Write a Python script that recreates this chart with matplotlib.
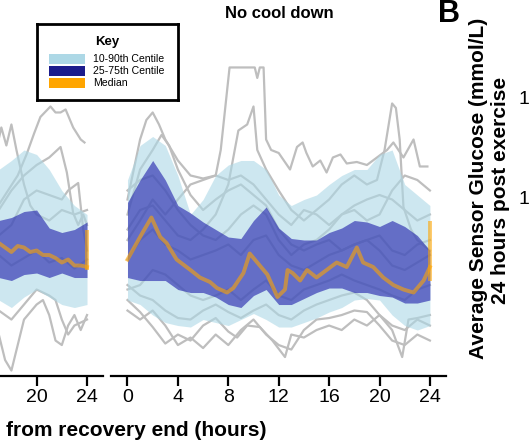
import numpy as np
import matplotlib.pyplot as plt
from matplotlib.patches import Rectangle

plt.rcParams['font.family'] = ['Liberation Sans', 'DejaVu Sans']

# Sensor glucose (mmol/L), hours from recovery end
# ---------- right panel: "No cool down" ----------
hours_r = np.arange(0, 25)
r_p90 = [14.0, 16.3, 16.9, 16.3, 14.3, 11.7, 12.7, 14.3, 15.0, 15.3, 15.3, 14.7, 13.0,
         12.3, 12.7, 13.0, 13.7, 14.3, 14.7, 14.7, 15.7, 16.0, 13.7, 13.0, 12.3]
r_p75 = [12.5, 14.0, 15.3, 14.0, 12.3, 11.8, 11.2, 10.7, 10.2, 10.1, 11.3, 12.2, 10.8,
         10.1, 10.0, 10.0, 10.5, 10.8, 11.3, 11.2, 10.9, 11.3, 10.9, 10.3, 9.3]
r_p25 = [7.5, 7.3, 7.3, 7.3, 6.7, 6.5, 6.5, 6.2, 5.7, 5.5, 6.3, 6.7, 5.7,
         5.7, 6.1, 6.5, 6.8, 6.8, 6.5, 6.5, 6.3, 6.2, 5.8, 5.8, 6.0]
r_p10 = [6.0, 5.7, 5.0, 4.5, 4.3, 4.2, 4.7, 4.5, 4.3, 4.7, 5.1, 4.7, 4.2,
         4.2, 4.5, 4.8, 5.2, 5.5, 6.0, 6.1, 6.0, 5.0, 4.3, 4.0, 4.3]
r_med_t = [0, 1.2, 1.9, 2.6, 3.1, 3.9, 5.0, 5.75, 6.55, 7.1, 7.9, 8.4, 9.2, 9.7, 10.3, 11.1,
           11.9, 12.5, 12.7, 13.1, 13.7, 14.25, 15.0, 15.8, 16.6, 17.4, 18.2, 18.7, 19.5,
           20.3, 21.1, 21.9, 22.7, 23.5, 24]
r_med_v = [8.7, 10.5, 11.5, 10.2, 9.8, 8.7, 8.0, 7.5, 7.2, 6.8, 6.5, 6.8, 7.8, 9.1, 8.5, 7.7,
           6.2, 6.7, 8.0, 7.8, 7.3, 8.0, 7.5, 8.0, 8.5, 8.2, 9.5, 8.5, 8.2,
           7.5, 7.0, 6.7, 6.5, 7.3, 8.2]
r_med_end = [7.3, 11.3]

r1_t = [0, 1, 2, 3, 4, 5, 6, 7, 7.4, 8.1, 10.1, 10.3, 10.5, 10.8, 11.0, 11.4, 12, 12.9, 13.45,
        13.9, 14.2, 14.7, 15.3, 15.8, 16.3, 16.9, 17.4, 18.2, 19.0, 19.8, 20.6, 21.1, 21.9,
        22.7, 23.2, 23.8]
r1_v = [10.0, 11.3, 12.7, 11.7, 12.7, 13.7, 14.0, 14.3, 16.0, 21.5, 21.5, 20.8, 21.5, 21.5,
        16.7, 16.0, 15.8, 14.7, 16.2, 16.5, 15.8, 14.9, 15.3, 14.5, 15.5, 15.7, 15.1, 15.2,
        15.0, 15.5, 16.0, 16.5, 15.5, 16.7, 14.9, 14.9]
r2_t = [0, 1, 2, 3, 4, 5, 6, 7, 8, 8.8, 9.5, 10, 10.3, 11, 12, 13, 14, 15, 16, 17, 18, 19,
        19.8, 20.4, 21.0, 21.3, 21.6, 21.9, 22.5, 23, 24]
r2_v = [10.7, 12.0, 12.3, 11.3, 10.3, 10.0, 10.7, 11.7, 13.7, 17.3, 17.7, 18.9, 16.0, 14.7,
        13.3, 12.0, 11.3, 12.0, 12.7, 13.7, 14.3, 13.7, 14.0, 16.0, 19.1, 18.8, 16.7, 12.2,
        10.7, 10.0, 9.3]
r3_t = [0, 0.5, 1, 1.5, 2, 2.5, 3, 3.5, 4, 5, 6, 7, 8, 9, 10, 11, 12, 13, 14, 15, 16, 17, 18,
        19, 20, 21, 22, 23, 24]
r3_v = [12.7, 14.7, 16.7, 18.0, 18.5, 17.7, 16.7, 16.0, 15.3, 14.3, 14.1, 14.3, 14.0, 14.3,
        13.7, 12.7, 11.7, 11.0, 12.0, 11.7, 11.0, 11.7, 12.0, 11.3, 11.7, 13.3, 14.3, 14.0, 13.3]
r4_t = [0, 1, 2, 2.7, 3.3, 4, 5, 6, 7, 8, 9, 10, 11, 12, 13, 14, 15, 16, 17, 18, 19, 20, 21,
        22, 23, 24]
r4_v = [11.7, 14.7, 16.0, 17.0, 16.3, 14.7, 13.0, 12.0, 12.7, 13.3, 13.7, 13.0, 12.3, 10.7,
        9.7, 9.3, 9.7, 10.0, 9.3, 9.7, 10.0, 10.3, 9.3, 9.0, 9.7, 10.0]
r5_t = [0, 1, 2, 3, 4, 5, 6, 7, 8, 8.7, 9.5, 10.5, 11.5, 12.5, 13, 14, 15, 16, 17, 18, 19, 20,
        21, 22, 23, 24]
r5_v = [6.0, 5.2, 4.2, 3.1, 3.7, 3.3, 4.3, 4.8, 3.9, 3.5, 4.3, 4.2, 3.3, 2.2, 3.7, 3.5, 4.0,
        4.3, 4.0, 4.7, 4.3, 5.0, 4.3, 4.0, 4.7, 4.3]
r6_t = [0, 1, 2, 3, 4, 5, 6, 7, 8, 9, 10, 11, 12, 13, 14, 15, 16, 17, 18, 19, 20, 21, 21.8,
        22.3, 23, 24]
r6_v = [7.0, 6.3, 6.0, 5.3, 4.8, 4.7, 5.3, 5.7, 5.2, 4.8, 5.3, 5.7, 5.0, 4.7, 5.3, 5.7, 6.0,
        6.3, 6.5, 6.0, 5.0, 4.0, 2.2, 4.7, 4.8, 5.0]
r7_v = [5.3, 4.7, 5.3, 4.3, 3.0, 3.5, 2.8, 3.7, 3.0, 4.0, 4.7, 3.7, 3.0, 2.7, 4.0, 4.7, 4.8,
        5.0, 5.3, 5.2, 4.3, 3.3, 3.0, 3.7, 3.3]
r8_v = [8.7, 10.0, 10.7, 9.7, 9.3, 8.7, 9.0, 9.3, 9.7, 9.0, 10.0, 10.3, 9.0, 8.3, 8.0, 8.5,
        9.0, 9.3, 9.7, 10.0, 9.3, 8.3, 8.0, 8.5, 9.0]
r9_v = [13.3, 14.0, 14.3, 13.3, 12.0, 11.0, 10.3, 10.0, 10.7, 11.7, 12.3, 11.7, 10.0, 9.0,
        9.7, 10.0, 10.7, 11.7, 12.3, 12.7, 13.0, 12.7, 12.0, 11.3, 11.7]
r10_v = [6.7, 7.0, 8.0, 7.7, 7.0, 6.3, 6.0, 6.3, 6.7, 6.0, 6.7, 7.3, 6.3, 6.0, 6.7, 7.0, 7.3,
         7.7, 7.3, 7.0, 6.7, 6.3, 6.0, 6.7, 7.0]

# ---------- left panel (only the last hours are in view) ----------
hours_l = np.arange(16, 25)
l_p90 = [14.3, 14.7, 15.3, 16.0, 15.7, 14.7, 13.3, 12.3, 11.7]
l_p75 = [11.7, 11.3, 11.5, 11.9, 12.0, 10.8, 10.5, 10.7, 11.2]
l_p25 = [7.7, 7.5, 7.3, 7.7, 7.8, 7.5, 7.8, 7.5, 7.5]
l_p10 = [6.0, 6.0, 5.5, 6.2, 6.7, 6.2, 5.7, 5.5, 5.7]
l_med_t = [16, 17, 17.5, 18, 18.5, 19, 19.5, 20, 20.5, 21, 21.5, 22, 22.5, 23, 23.5, 24]
l_med_v = [9.7, 9.8, 9.5, 9.2, 9.6, 9.5, 9.2, 9.3, 9.0, 9.0, 8.8, 8.5, 8.7, 8.3, 8.3, 8.2]
l_med_end = [8.0, 10.7]

l1_t = [16.5, 17.5, 18.5, 19.2, 19.8, 20.3, 21.1, 21.5, 21.9, 22.3, 22.9, 23.5, 23.8]
l1_v = [11.7, 13.0, 14.3, 15.7, 17.1, 18.2, 18.9, 18.5, 18.5, 18.7, 17.5, 16.7, 16.5]
l2_t = [16, 16.8, 17.2, 17.6, 18, 18.4, 19, 19.5, 20, 21, 22, 23, 24]
l2_v = [13.3, 16.0, 17.5, 16.3, 17.7, 16.0, 13.7, 12.3, 11.7, 11.3, 12.0, 11.7, 12.0]
l3_t = [16, 17, 18, 19, 20, 21, 21.9, 22.4, 22.9, 23.3, 23.7, 24]
l3_v = [10.0, 12.0, 13.3, 14.3, 15.0, 15.5, 16.2, 14.5, 11.8, 11.0, 11.7, 11.0]
l4_t = [16, 17, 18, 19, 20, 21, 22, 22.5, 23.3, 23.7, 24]
l4_v = [10.7, 10.3, 11.0, 12.7, 13.3, 13.0, 12.7, 13.3, 13.8, 10.7, 9.3]
l5_t = [16, 17, 17.5, 18, 18.5, 19, 20, 20.5, 21, 21.5, 22, 22.5, 23, 23.5, 24]
l5_v = [4.7, 3.7, 2.0, 1.3, 3.0, 4.7, 5.7, 6.0, 5.0, 3.3, 3.0, 4.3, 5.0, 4.0, 5.0]
l6_t = [16, 17, 18, 19, 20, 21, 21.5, 22, 22.5, 23, 24]
l6_v = [6.0, 5.3, 4.7, 5.7, 6.7, 6.3, 6.0, 4.7, 3.7, 4.3, 4.7]
l7_v = [8.7, 9.0, 8.3, 8.8, 9.3, 8.5, 8.8, 8.1, 8.7]

right_lines = [(r1_t, r1_v), (r2_t, r2_v), (r3_t, r3_v), (r4_t, r4_v), (r5_t, r5_v),
               (r6_t, r6_v), (hours_r, r7_v), (hours_r, r8_v), (hours_r, r9_v),
               (hours_r, r10_v)]
left_lines = [(l1_t, l1_v), (l2_t, l2_v), (l3_t, l3_v), (l4_t, l4_v), (l5_t, l5_v),
              (l6_t, l6_v), (hours_l, l7_v)]

GREY = '#bebebe'
LIGHT = '#add8e6'
DARK = '#1e1eaa'
ORANGE = '#ffa500'

W, H = 530, 442
fig = plt.figure(figsize=(W / 100, H / 100), dpi=100)


def px_axes(x0, y_top, w, h):
    # axes placed in pixel units (top-left origin)
    return fig.add_axes([x0 / W, 1 - (y_top + h) / H, w / W, h / H])


def draw_panel(ax, hrs, p10, p25, p75, p90, med_t, med_v, med_end, lines, ticks):
    for t, v in lines:
        ax.plot(t, v, color=GREY, lw=1.6, zorder=1)
    ax.fill_between(hrs, p10, p90, color=LIGHT, alpha=0.6, lw=0, zorder=2)
    ax.fill_between(hrs, p25, p75, color=DARK, alpha=0.6, lw=0, zorder=3)
    ax.plot(med_t, med_v, color=ORANGE, alpha=0.6, lw=2.8, zorder=4)
    ax.vlines(24, med_end[0], med_end[1], color=ORANGE, alpha=0.6, lw=2.8, zorder=4)

    ax.set_xlim(-1.3, 25.3)
    ax.set_ylim(0.97, 23.33)
    ax.set_xticks(ticks)
    ax.set_yticks([])
    for s in ['top', 'right', 'left']:
        ax.spines[s].set_visible(False)
    ax.spines['bottom'].set_linewidth(1.6)
    ax.tick_params(axis='x', length=7, width=1.6, labelsize=14, pad=3)
    ax.patch.set_alpha(0)


ax_l = px_axes(-231.8, 40, 335.2, 335.5)
ax_r = px_axes(111.1, 40, 335.2, 335.5)
# the left panel is cropped: only its last two ticks are in view
draw_panel(ax_l, hours_l, l_p10, l_p25, l_p75, l_p90, l_med_t, l_med_v, l_med_end,
           left_lines, [20, 24])
draw_panel(ax_r, hours_r, r_p10, r_p25, r_p75, r_p90, r_med_t, r_med_v, r_med_end,
           right_lines, range(0, 25, 4))

fig.text(279 / W, 1 - 13 / H, 'No cool down', ha='center', va='center',
         fontsize=12, fontweight='bold')
fig.text(266 / W, 1 - 430 / H, 'from recovery end (hours)', ha='right', va='center',
         fontsize=15, fontweight='bold')

# Key box
ax_k = px_axes(37, 24, 141, 76)
ax_k.set_xlim(0, 141)
ax_k.set_ylim(76, 0)
ax_k.set_xticks([])
ax_k.set_yticks([])
for s in ax_k.spines.values():
    s.set_linewidth(2)
ax_k.text(70, 18, 'Key', ha='center', va='center', fontsize=9.5, fontweight='bold')
key_labels = ['10-90th Centile', '25-75th Centile', 'Median']
key_colors = [LIGHT, '#1c1c8c', ORANGE]
for i, (lab, col) in enumerate(zip(key_labels, key_colors)):
    ax_k.add_patch(Rectangle((12, 30 + 12 * i), 36, 10, color=col, lw=0))
    ax_k.text(56, 35.5 + 12 * i, lab, ha='left', va='center', fontsize=7.6)

# neighbouring panel B (cut off by the crop)
fig.text(449 / W, 1 - 14 / H, 'B', ha='center', va='center', fontsize=22, fontweight='bold')
fig.text(479 / W, 1 - 188 / H, 'Average Sensor Glucose (mmol/L)', rotation=90,
         ha='center', va='center', fontsize=15, fontweight='bold')
fig.text(500 / W, 1 - 190 / H, '24 hours post exercise', rotation=90,
         ha='center', va='center', fontsize=15, fontweight='bold')
for yp in [100, 200]:
    fig.text(519 / W, 1 - yp / H, '1', ha='left', va='center', fontsize=14)

fig.savefig('out.png', dpi=100)
